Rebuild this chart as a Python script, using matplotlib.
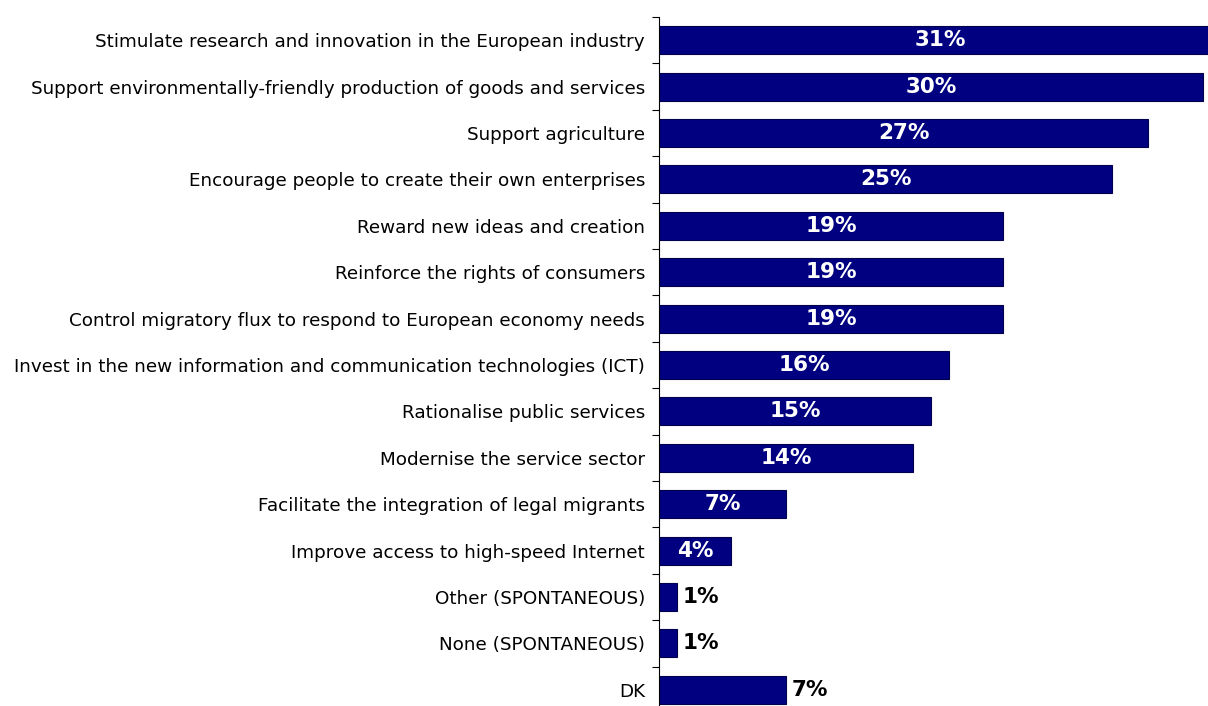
import matplotlib
matplotlib.use("Agg")
import matplotlib.pyplot as plt
import numpy as np

categories = [
    "Stimulate research and innovation in the European industry",
    "Support environmentally-friendly production of goods and services",
    "Support agriculture",
    "Encourage people to create their own enterprises",
    "Reward new ideas and creation",
    "Reinforce the rights of consumers",
    "Control migratory flux to respond to European economy needs",
    "Invest in the new information and communication technologies (ICT)",
    "Rationalise public services",
    "Modernise the service sector",
    "Facilitate the integration of legal migrants",
    "Improve access to high-speed Internet",
    "Other (SPONTANEOUS)",
    "None (SPONTANEOUS)",
    "DK",
]
values = [31, 30, 27, 25, 19, 19, 19, 16, 15, 14, 7, 4, 1, 1, 7]
inside_label = [True] * 12 + [False, False, False]

W, H = 1208, 706
fig = plt.figure(figsize=(W / 100, H / 100), dpi=100)
# axes placed in pixel terms; right and bottom edges run past the figure
left_px, top_px = 659, 17
px_per_pct = 18.12
row_px = 46.4
xmax = 31
ax_w = xmax * px_per_pct
ax_h = len(categories) * row_px
ax = fig.add_axes([left_px / W, (H - top_px - ax_h) / H, ax_w / W, ax_h / H])

y = np.arange(len(categories))
ax.barh(y, values, height=0.6, color="#000080", edgecolor="#00004d", linewidth=0.8)
ax.set_xlim(0, xmax)
ax.set_ylim(len(categories) - 0.5, -0.5)

for yi, v, inside in zip(y, values, inside_label):
    if inside:
        ax.text(v / 2, yi, f"{v}%", color="white", fontsize=15.5, fontweight="bold",
                ha="center", va="center")
    else:
        ax.text(v + 0.3, yi, f"{v}%", color="black", fontsize=15.5, fontweight="bold",
                ha="left", va="center")

ax.set_yticks(y)
ax.set_yticklabels(categories, fontsize=13.2)
ax.tick_params(axis="y", length=0, pad=10)
ax.set_yticks(np.arange(len(categories) + 1) - 0.5, minor=True)
ax.tick_params(axis="y", which="minor", length=5, width=0.8, direction="out")
ax.set_xticks([])
for side in ("top", "right", "bottom"):
    ax.spines[side].set_visible(False)
ax.spines["left"].set_linewidth(0.8)

fig.savefig("out.png", dpi=100)
